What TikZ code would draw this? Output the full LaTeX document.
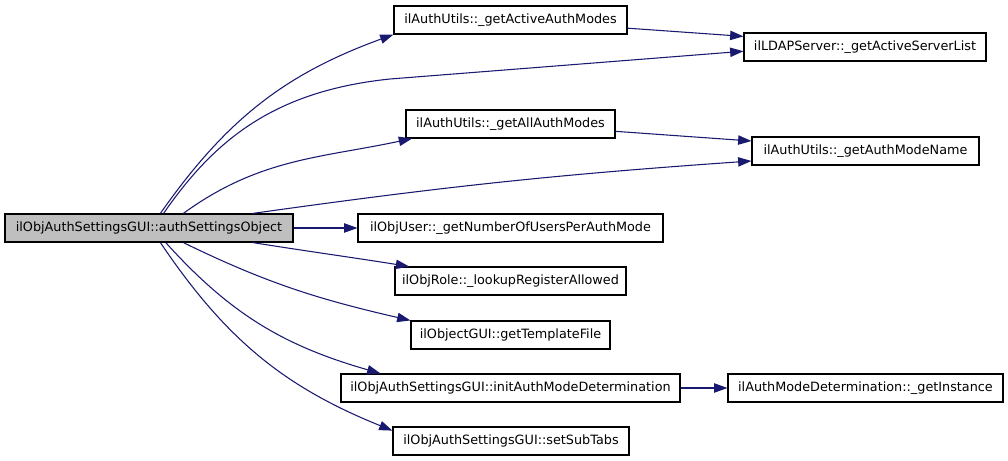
\documentclass[tikz,border=0pt]{standalone}
\usepackage{fontspec}
\setmainfont{DejaVu Sans}
\usetikzlibrary{arrows.meta}
\definecolor{edgeblue}{HTML}{191970}
\definecolor{mainfill}{HTML}{BFBFBF}

\begin{document}
\begin{tikzpicture}[x=0.75pt, y=0.75pt,
                func/.style={draw=black, line width=0.8pt, fill=white, minimum height=21pt, inner sep=0pt, font=\fontsize{9.6}{11}\selectfont},
                call/.style={draw=edgeblue, line width=0.8pt, -{Triangle[length=10pt, width=7pt]}}]
                \useasboundingbox (0, 0) rectangle (1008, 461);

                \node[func, fill=mainfill, minimum width=216pt] (main) at (149, 233) {ilObjAuthSettingsGUI::authSettingsObject};

                \node[func, minimum width=174.75pt] (activemodes)     at (510.5, 441) {ilAuthUtils::\_getActiveAuthModes};
                \node[func, minimum width=156.75pt] (allmodes)        at (510.5, 337) {ilAuthUtils::\_getAllAuthModes};
                \node[func, minimum width=228.75pt] (userspermode)    at (510.5, 233) {ilObjUser::\_getNumberOfUsersPerAuthMode};
                \node[func, minimum width=173.25pt] (registerallowed) at (510.5, 180) {ilObjRole::\_lookupRegisterAllowed};
                \node[func, minimum width=149.25pt] (templatefile)    at (510.5, 126) {ilObjectGUI::getTemplateFile};
                \node[func, minimum width=254.25pt] (initdet)         at (510.5, 73)  {ilObjAuthSettingsGUI::initAuthModeDetermination};
                \node[func, minimum width=177pt]    (subtabs)         at (511, 20)    {ilObjAuthSettingsGUI::setSubTabs};

                \node[func, minimum width=181.5pt]  (ldaplist)        at (865, 414)   {ilLDAPServer::\_getActiveServerList};
                \node[func, minimum width=170.25pt] (modename)        at (865.5, 310) {ilAuthUtils::\_getAuthModeName};
                \node[func, minimum width=206.25pt] (getinstance)     at (865.5, 73)  {ilAuthModeDetermination::\_getInstance};

                \draw[call] (main.52) to[out=55, in=200] (activemodes.south west);
                \draw[call] (main.45) .. controls (215, 322) and (275, 370) .. (390, 382) -- (ldaplist.182.5);
                \draw[call] (main.23) to[out=36, in=192] ([xshift=5pt]allmodes.south west);
                \draw[call] (main.8) to[out=8, in=184] (modename.185.4);
                \draw[call] (main) -- (userspermode);
                \draw[call] (main.-8) to[out=-9, in=171] ([xshift=11pt]registerallowed.north west);
                \draw[call] (main.-23) to[out=-26, in=167] (templatefile.north west);
                \draw[call] (main.-41) to[out=-48, in=164] ([xshift=30pt]initdet.north west);
                \draw[call] (main.-52) to[out=-56, in=158] (subtabs.175.6);

                \draw[call] (activemodes.-4) -- (ldaplist.175);
                \draw[call] (allmodes.-4.4) -- (modename.175.3);
                \draw[call] (initdet) -- (getinstance);
            \end{tikzpicture}
\end{document}
